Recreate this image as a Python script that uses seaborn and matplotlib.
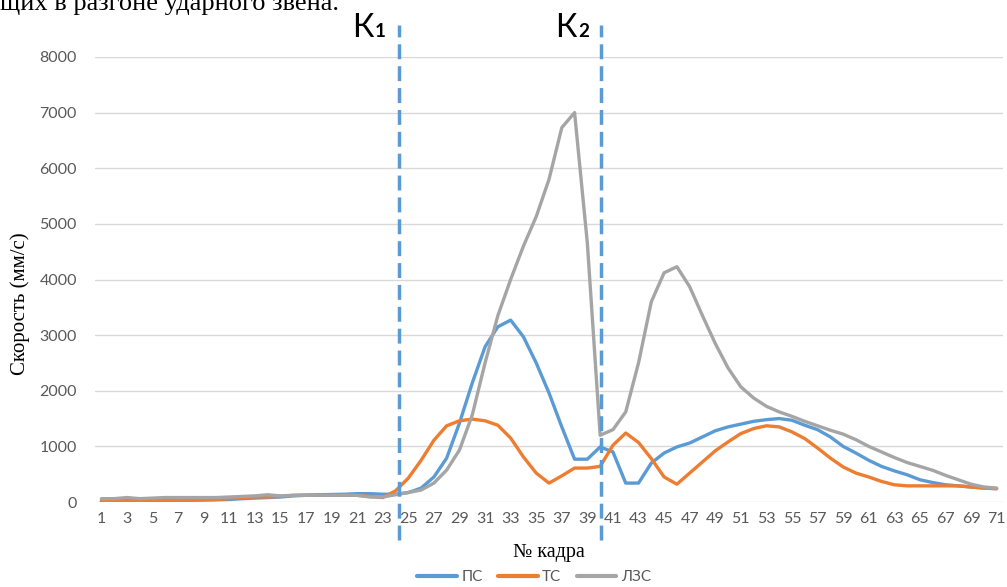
import numpy as np
import pandas as pd
import matplotlib
matplotlib.use("Agg")
import matplotlib.pyplot as plt
import seaborn as sns
from matplotlib.lines import Line2D

frames = list(range(1, 72))

ps = [20, 20, 25, 25, 30, 30, 30, 35, 40, 40,
      45, 60, 70, 80, 90, 110, 120, 130, 135, 140,
      150, 150, 140, 140, 170, 250, 450, 790, 1420, 2140,
      2790, 3150, 3270, 2970, 2500, 1960, 1350, 770, 770, 990,
      900, 340, 340, 700, 880, 990, 1060, 1170, 1280, 1350,
      1400, 1450, 1480, 1500, 1470, 1380, 1300, 1170, 1000, 880,
      750, 640, 560, 490, 400, 350, 310, 290, 270, 250, 240]

ts = [10, 10, 15, 15, 20, 20, 25, 30, 35, 45,
      60, 80, 90, 90, 100, 120, 125, 125, 125, 125,
      120, 100, 80, 200, 430, 750, 1110, 1370, 1460, 1490,
      1460, 1380, 1150, 810, 520, 340, 470, 610, 610, 640,
      1020, 1240, 1070, 780, 450, 320, 520, 720, 920, 1080,
      1230, 1320, 1370, 1350, 1260, 1140, 970, 790, 630, 520,
      450, 370, 310, 290, 290, 290, 290, 290, 270, 250, 240]

lzs = [60, 60, 80, 60, 70, 80, 80, 80, 80, 80,
       90, 100, 110, 130, 110, 120, 120, 120, 120, 120,
       120, 90, 90, 130, 170, 215, 340, 575, 935, 1565,
       2500, 3350, 4000, 4600, 5130, 5800, 6730, 7000, 4650, 1200,
       1300, 1620, 2500, 3600, 4120, 4230, 3870, 3350, 2850, 2410,
       2070, 1870, 1720, 1620, 1540, 1450, 1370, 1290, 1220, 1120,
       1000, 900, 800, 710, 640, 570, 480, 400, 320, 270, 250]

series_names = ["ПС", "ТС", "ЛЗС"]
colors = ["#5B9BD5", "#ED7D31", "#A5A5A5"]
k_positions = [24.3, 40.08]
k_labels = [("К", "1"), ("К", "2")]
y_ticks = list(range(0, 8001, 1000))
x_ticks = list(range(1, 72, 2))

df = pd.DataFrame({
    "frame": frames * 3,
    "value": ps + ts + lzs,
    "series": [series_names[0]] * 71 + [series_names[1]] * 71 + [series_names[2]] * 71,
})

sns.set_theme(style="white")
plt.rcParams["font.family"] = ["Lato", "DejaVu Sans"]

W, H = 1007, 587
fig = plt.figure(figsize=(W / 100, H / 100), dpi=100)
ax = fig.add_axes([95 / W, 1 - 502 / H, (1003 - 95) / W, (502 - 57) / H])

sns.lineplot(data=df, x="frame", y="value", hue="series", hue_order=series_names,
             palette=colors, linewidth=2.4, ax=ax, legend=False, zorder=3)

ax.set_xlim(0.5, 71.5)
ax.set_ylim(0, 8000)
ax.set_yticks(y_ticks)
ax.set_xticks(x_ticks)
ax.set_xticklabels([str(x) for x in x_ticks])
ax.set_yticklabels([str(y) for y in y_ticks])
ax.tick_params(axis="both", length=0, labelsize=11.5, labelcolor="#595959")
ax.tick_params(axis="y", pad=13)
ax.tick_params(axis="x", pad=7)
ax.grid(axis="y", color="#D9D9D9", linewidth=1)
ax.grid(axis="x", visible=False)
for s in ax.spines.values():
    s.set_visible(False)
ax.set_xlabel("")
ax.set_ylabel("")

# dashed K markers
for kx in k_positions:
    ax.plot([kx, kx], [-690, 8580], color="#5B9BD5", linewidth=2.5,
            linestyle=(0, (4.3, 2.0)), clip_on=False, zorder=4)

# K labels
k_px = [374, 577]
for (big, small), px in zip(k_labels, k_px):
    fig.text(px / W, 1 - 37 / H, big, ha="right", va="baseline", fontsize=23, color="#000000")
    fig.text((px + 1) / W, 1 - 37 / H, small, ha="left", va="baseline", fontsize=13.5,
             color="#000000", fontweight="bold")

serif = ["Liberation Serif", "DejaVu Serif"]
fig.text(549 / W, 1 - 552 / H, "№ кадра", ha="center", va="center", fontsize=14.5,
         family=serif, color="#000000")
fig.text(20 / W, 1 - 304 / H, "Скорость (мм/с)", ha="center", va="center", rotation=90,
         fontsize=15, family=serif, color="#000000")
fig.text(0 / W, 1 - 10 / H, "щих в разгоне ударного звена.", ha="left", va="baseline",
         fontsize=19, family=serif, color="#000000")

handles = [Line2D([0], [0], color=c, linewidth=3) for c in colors]
leg = fig.legend(handles, series_names, loc="center", bbox_to_anchor=(534 / W, 1 - 577 / H),
                 ncol=3, frameon=False, fontsize=11, handlelength=2.6, handletextpad=0.3,
                 columnspacing=1.0)
for t in leg.get_texts():
    t.set_color("#595959")

fig.savefig("out.png", dpi=100)
